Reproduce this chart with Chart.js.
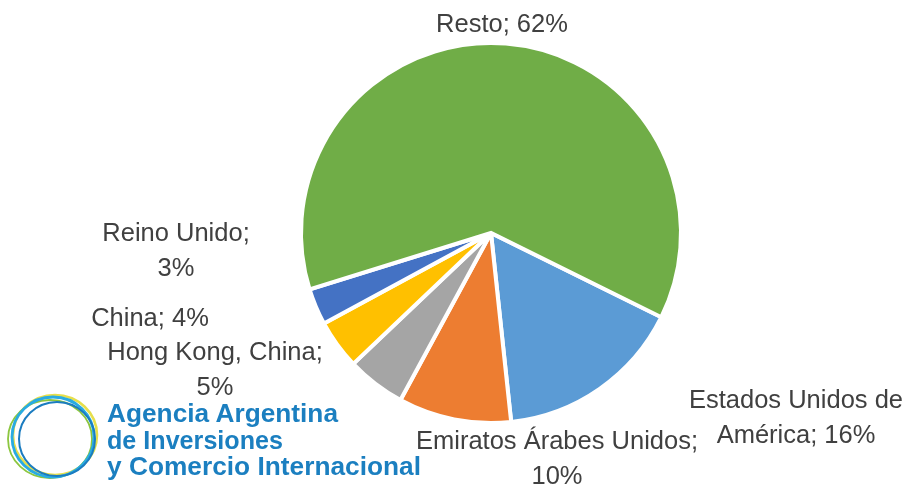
<!DOCTYPE html>
<html>
<head>
<meta charset="utf-8">
<script src="https://cdn.jsdelivr.net/npm/chart.js@4"></script>
<style>
  body { margin: 0; background: #fff; }
  #wrap { position: relative; width: 911px; height: 486px; }
  #logo { position: absolute; left: 0; top: 388px; }
</style>
</head>
<body>
<div id="wrap">
  <canvas id="chart"></canvas>
  <svg id="logo" width="440" height="98" viewBox="0 0 440 98">
    <ellipse cx="55" cy="47" rx="42" ry="40" fill="none" stroke="#e6df4c" stroke-width="2.6"/>
    <ellipse cx="50" cy="51" rx="42" ry="39" fill="none" stroke="#8cc63f" stroke-width="1.8"/>
    <ellipse cx="53" cy="49" rx="41" ry="40" fill="none" stroke="#29abe2" stroke-width="2.8"/>
    <ellipse cx="57" cy="51" rx="38" ry="37" fill="none" stroke="#1b7cc0" stroke-width="2"/>
    <g fill="#1b7fc0" font-family="Liberation Sans, Arial, sans-serif" font-weight="bold" font-size="25">
      <text x="107" y="33.5" textLength="231" lengthAdjust="spacingAndGlyphs">Agencia Argentina</text>
      <text x="107" y="61" textLength="176" lengthAdjust="spacingAndGlyphs">de Inversiones</text>
      <text x="107" y="87" textLength="314" lengthAdjust="spacingAndGlyphs">y Comercio Internacional</text>
    </g>
  </svg>
</div>
<script>
var countries = ['Estados Unidos de América', 'Emiratos Árabes Unidos', 'Hong Kong, China', 'China', 'Reino Unido', 'Resto'];
var shares = [16.0, 9.6, 5.0, 4.2, 3.1, 62.1];
var sliceColors = ['#5b9bd5', '#ed7d31', '#a5a5a5', '#ffc000', '#4472c4', '#70ad47'];

// where the first line of each label breaks (null = one line)
var firstLines = ['Estados Unidos de', 'Emiratos Árabes Unidos;', 'Hong Kong, China;', null, 'Reino Unido;', null];
// label baseline position, relative to the pie centre
var labelOffsets = [[305, 175], [66, 216], [-276, 127], [-341, 93], [-315, 8], [11, -201]];

var sliceLabels = {
  id: 'sliceLabels',
  afterDatasetsDraw: function(chart) {
    var ctx = chart.ctx;
    var arcs = chart.getDatasetMeta(0).data;
    ctx.save();
    ctx.font = '25.5px "Liberation Sans", Arial, sans-serif';
    ctx.fillStyle = '#404040';
    ctx.textAlign = 'center';
    ctx.textBaseline = 'alphabetic';
    countries.forEach(function(name, i) {
      var full = name + '; ' + Math.round(shares[i]) + '%';
      var lines = [full];
      if (firstLines[i]) lines = [firstLines[i], full.slice(firstLines[i].length).trim()];
      var x = arcs[i].x + labelOffsets[i][0];
      var y = arcs[i].y + labelOffsets[i][1];
      lines.forEach(function(t, j) {
        ctx.fillText(t, x, y + j * 35);
      });
    });
    ctx.restore();
  }
};

new Chart(document.getElementById('chart').getContext('2d'), {
  type: 'pie',
  data: {
    labels: countries,
    datasets: [{
      data: shares,
      backgroundColor: sliceColors,
      borderColor: '#ffffff',
      borderWidth: 4,
      borderJoinStyle: 'miter'
    }]
  },
  options: {
    responsive: true,
    maintainAspectRatio: false,
    animation: false,
    rotation: 116.3,
    layout: { padding: { left: 299, right: 228, top: 41, bottom: 61 } },
    plugins: {
      legend: { display: false },
      tooltip: { enabled: false }
    }
  },
  plugins: [sliceLabels]
});
</script>
</body>
</html>
